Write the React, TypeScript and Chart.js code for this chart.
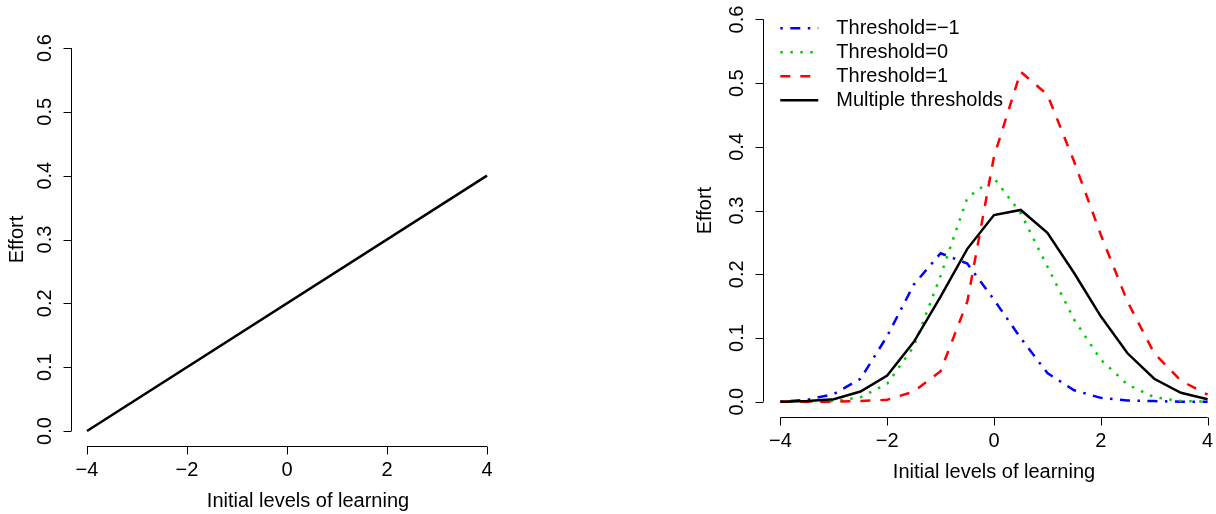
import React, { useEffect, useRef } from "react";
import { Chart, registerables } from "chart.js";

Chart.register(...registerables);

// ---- data ----
const leftX = [-4, 4];
const leftEffort = [0, 0.4];

const learningLevels = [-4, -3.5, -3, -2.5, -2, -1.5, -1, -0.5, 0, 0.5, 1, 1.5, 2, 2.5, 3, 3.5, 4];
const thresholdMinus1 = [0, 0.003, 0.012, 0.036, 0.103, 0.184, 0.233, 0.217, 0.16, 0.1, 0.045, 0.018, 0.006, 0.002, 0.001, 0, 0];
const threshold0 = [0, 0, 0.001, 0.007, 0.028, 0.087, 0.198, 0.32, 0.351, 0.296, 0.212, 0.129, 0.066, 0.027, 0.007, 0.001, 0];
const threshold1 = [0, 0, 0, 0.001, 0.003, 0.016, 0.048, 0.157, 0.385, 0.518, 0.482, 0.377, 0.262, 0.157, 0.076, 0.033, 0.011];
const multipleThresholds = [0, 0.001, 0.004, 0.016, 0.041, 0.094, 0.165, 0.24, 0.293, 0.301, 0.265, 0.202, 0.134, 0.076, 0.036, 0.014, 0.004];

const seriesNames = ["Threshold=\u22121", "Threshold=0", "Threshold=1", "Multiple thresholds"];
const xTickValues = [-4, -2, 0, 2, 4];
const yTickValues = [0, 0.1, 0.2, 0.3, 0.4, 0.5, 0.6];
const xAxisTitle = "Initial levels of learning";
const yAxisTitle = "Effort";

const FONT = '20px "Liberation Sans", Arial, sans-serif';
const LW = 2.5;

function fmtX(v: number) {
  return v < 0 ? "\u2212" + Math.abs(v) : String(v);
}

const rAxes = {
  id: "rAxes",
  afterDraw(chart: any, _args: any, opts: any) {
    const ctx = chart.ctx;
    const xs = chart.scales.x;
    const ys = chart.scales.y;
    const area = chart.chartArea;
    ctx.save();
    ctx.strokeStyle = "#000";
    ctx.fillStyle = "#000";
    ctx.lineWidth = 1;
    ctx.font = FONT;
    // x axis
    const bottom = Math.round(area.bottom) + 0.5;
    ctx.beginPath();
    ctx.moveTo(xs.getPixelForValue(xTickValues[0]), bottom);
    ctx.lineTo(xs.getPixelForValue(xTickValues[xTickValues.length - 1]), bottom);
    for (const v of xTickValues) {
      const px = Math.round(xs.getPixelForValue(v)) + 0.5;
      ctx.moveTo(px, bottom);
      ctx.lineTo(px, bottom + 8);
    }
    ctx.stroke();
    ctx.textAlign = "center";
    ctx.textBaseline = "middle";
    for (const v of xTickValues) {
      ctx.fillText(fmtX(v), xs.getPixelForValue(v), area.bottom + 24);
    }
    const tcx = opts.xTitleCenter != null ? opts.xTitleCenter : (area.left + area.right) / 2;
    ctx.fillText(xAxisTitle, tcx, area.bottom + 55);
    // y axis
    const left = Math.round(area.left) + 0.5;
    ctx.beginPath();
    ctx.moveTo(left, ys.getPixelForValue(yTickValues[0]));
    ctx.lineTo(left, ys.getPixelForValue(yTickValues[yTickValues.length - 1]));
    for (const v of yTickValues) {
      const py = Math.round(ys.getPixelForValue(v)) + 0.5;
      ctx.moveTo(left, py);
      ctx.lineTo(left - 8, py);
    }
    ctx.stroke();
    for (const v of yTickValues) {
      ctx.save();
      ctx.translate(area.left - 26, ys.getPixelForValue(v));
      ctx.rotate(-Math.PI / 2);
      ctx.fillText(v.toFixed(1), 0, 0);
      ctx.restore();
    }
    ctx.save();
    ctx.translate(area.left - opts.yTitleOffset, (area.top + area.bottom) / 2);
    ctx.rotate(-Math.PI / 2);
    ctx.fillText(yAxisTitle, 0, 0);
    ctx.restore();
    // legend
    if (opts.legend) {
      const order = [0, 1, 2, 3];
      order.forEach((i, row) => {
        const ds = chart.data.datasets[i];
        const y = area.top + 24 + row * 24;
        ctx.save();
        ctx.strokeStyle = ds.borderColor;
        ctx.lineWidth = LW;
        ctx.lineCap = "butt";
        ctx.setLineDash(ds.borderDash || []);
        ctx.beginPath();
        ctx.moveTo(area.left + 17, y);
        ctx.lineTo(area.left + 55, y);
        ctx.stroke();
        ctx.restore();
        ctx.textAlign = "left";
        ctx.fillText(ds.label, area.left + 73, y);
      });
    }
    ctx.restore();
  },
};

function baseOptions(padding: any, pluginOpts: any) {
  return {
    responsive: false,
    animation: false as const,
    layout: { padding },
    plugins: {
      legend: { display: false },
      tooltip: { enabled: false },
      rAxes: pluginOpts,
    },
    elements: { point: { radius: 0 }, line: { tension: 0 } },
    scales: {
      x: { type: "linear" as const, min: -4.32, max: 4.32, display: false },
      y: { type: "linear" as const, min: -0.024, max: 0.624, display: false },
    },
  };
}

function toPoints(xv: number[], yv: number[]) {
  return xv.map((x, i) => ({ x, y: yv[i] }));
}

export default function App() {
  const leftRef = useRef<HTMLCanvasElement>(null);
  const rightRef = useRef<HTMLCanvasElement>(null);

  useEffect(() => {
    const left = new Chart(leftRef.current as HTMLCanvasElement, {
      type: "line",
      data: {
        datasets: [
          {
            label: "Effort",
            data: toPoints(leftX, leftEffort),
            borderColor: "#000000",
            borderWidth: LW,
            pointRadius: 0,
          },
        ],
      },
      options: baseOptions(
        { left: 71, right: 105, top: 32.7, bottom: 67.7 },
        { yTitleOffset: 54, xTitleCenter: 308 }
      ) as any,
      plugins: [rAxes],
    });

    const right = new Chart(rightRef.current as HTMLCanvasElement, {
      type: "line",
      data: {
        datasets: [
          {
            label: seriesNames[0],
            data: toPoints(learningLevels, thresholdMinus1),
            borderColor: "#0000FF",
            borderWidth: LW,
            borderDash: [2.5, 7.5, 10, 7.5],
            borderCapStyle: "butt",
            pointRadius: 0,
            order: 3,
          },
          {
            label: seriesNames[1],
            data: toPoints(learningLevels, threshold0),
            borderColor: "#00CD00",
            borderWidth: LW,
            borderDash: [2.5, 7.5],
            borderCapStyle: "butt",
            pointRadius: 0,
            order: 2,
          },
          {
            label: seriesNames[2],
            data: toPoints(learningLevels, threshold1),
            borderColor: "#FF0000",
            borderWidth: LW,
            borderDash: [10, 10],
            borderCapStyle: "butt",
            pointRadius: 0,
            order: 1,
          },
          {
            label: seriesNames[3],
            data: toPoints(learningLevels, multipleThresholds),
            borderColor: "#000000",
            borderWidth: LW,
            pointRadius: 0,
            order: 0,
          },
        ],
      },
      options: baseOptions(
        { left: 155.3, right: 23.3, top: 4.2, bottom: 97 },
        { yTitleOffset: 58, legend: true }
      ) as any,
      plugins: [rAxes],
    });

    return () => {
      left.destroy();
      right.destroy();
    };
  }, []);

  return (
    <div
      style={{
        position: "fixed",
        left: 0,
        top: 0,
        width: 1216,
        height: 514,
        overflow: "hidden",
        background: "#fff",
      }}
    >
      <canvas
        ref={leftRef}
        width={608}
        height={514}
        style={{ position: "absolute", left: 0, top: 0, width: 608, height: 514 }}
      />
      <canvas
        ref={rightRef}
        width={640}
        height={514}
        style={{ position: "absolute", left: 608, top: 0, width: 640, height: 514 }}
      />
    </div>
  );
}
